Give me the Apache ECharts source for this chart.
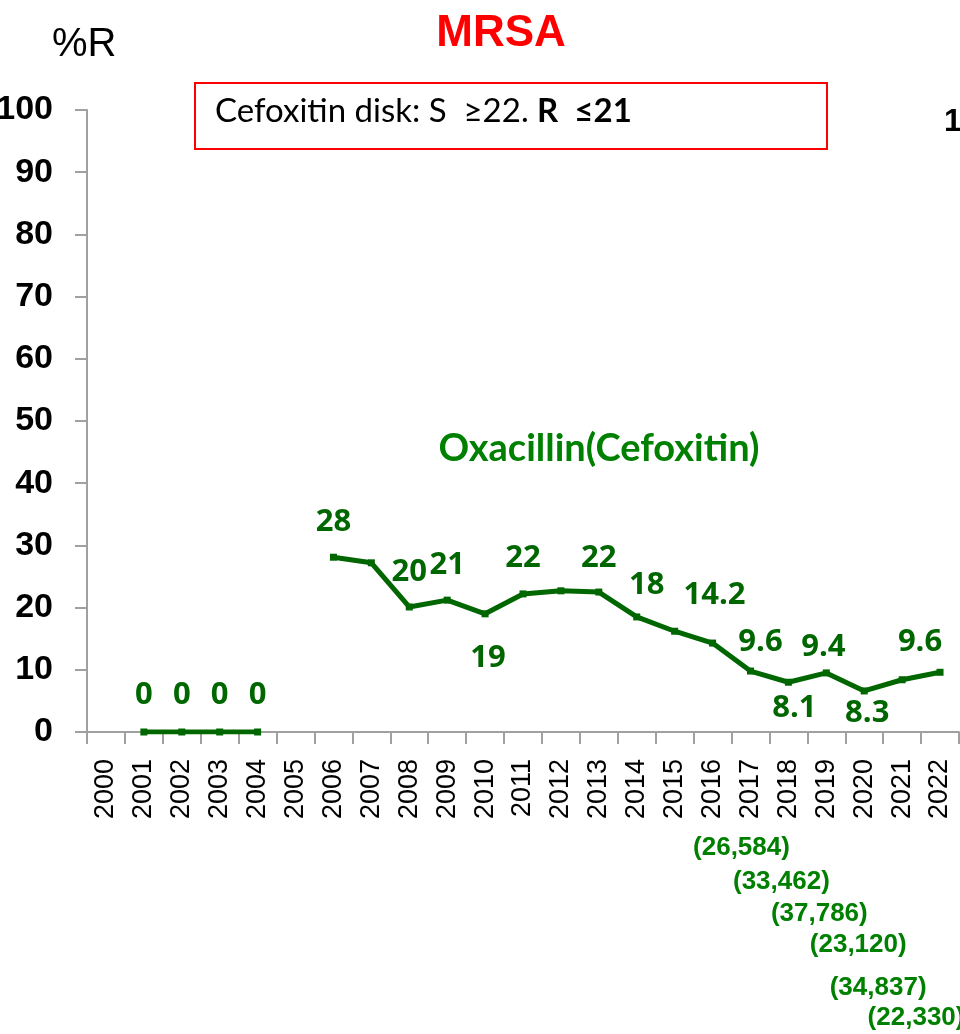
<!DOCTYPE html>
<html>
<head>
<meta charset="utf-8">
<script src="https://cdn.jsdelivr.net/npm/echarts@6/dist/echarts.min.js"></script>
<style>
  html, body { margin: 0; padding: 0; background: #fff; }
  #chart { width: 960px; height: 1034px; }
</style>
</head>
<body>
<div id="chart"></div>
<script>
// ── 数据 ──
const years = ['2000','2001','2002','2003','2004','2005','2006','2007','2008','2009','2010','2011',
               '2012','2013','2014','2015','2016','2017','2018','2019','2020','2021','2022'];
// 折线实际位置
const oxaR = [null, 0, 0, 0, 0, null, 28.1, 27.2, 20.1, 21.2, 19.0, 22.2,
              22.7, 22.5, 18.5, 16.2, 14.3, 9.8, 8.0, 9.5, 6.6, 8.4, 9.6];
// 点上标注的文字
const oxaLabels = ['', '0', '0', '0', '0', '', '28', '', '20', '21', '19', '22',
                   '', '22', '18', '', '14.2', '9.6', '8.1', '9.4', '8.3', '', '9.6'];
// 标注偏移（相对于点的中心）
const labelOffsets = [null, [0,-37], [0,-37], [0,-37], [0,-37], null, [0,-35], null, [0,-35], [0,-35], [3,44], [0,-36],
                      null, [0,-34], [10,-32], null, [2,-48], [10,-29], [6,26], [-3,-26], [3,22], null, [-20,-30]];
// 各年菌株数
const countYears = ['2017','2018','2019','2020','2021','2022'];
const countLabels = ['(26,584)','(33,462)','(37,786)','(23,120)','(34,837)','(22,330)'];
const countPos = [[-9,848],[-7,882],[-7,914],[-6,945],[-24,988],[-24,1018]]; // [dx, y]

const GREEN = '#006600';
const AXIS = '#a0a0a0';

const chart = echarts.init(document.getElementById('chart'));

const seriesData = oxaR.map((v, i) => {
  const lbl = oxaLabels[i];
  return {
    value: v,
    label: lbl ? { show: true, formatter: lbl, offset: labelOffsets[i] } : { show: false }
  };
});

chart.setOption({
  animation: false,
  grid: { left: 87, top: 110, width: 872, height: 622, containLabel: false, outerBoundsMode: 'none' },
  xAxis: {
    type: 'category',
    data: years,
    boundaryGap: true,
    axisLine: { lineStyle: { color: AXIS, width: 2 } },
    axisTick: { show: true, length: 12, alignWithLabel: false, lineStyle: { color: AXIS, width: 2 } },
    axisLabel: {
      rotate: 90, interval: 0, margin: 27,
      fontFamily: 'Liberation Sans', fontSize: 27, color: '#000'
    },
    splitLine: { show: false }
  },
  yAxis: {
    type: 'value', min: 0, max: 100, interval: 10,
    axisLine: { show: true, lineStyle: { color: AXIS, width: 2 } },
    axisTick: { show: true, length: 12, lineStyle: { color: AXIS, width: 2 } },
    axisLabel: {
      margin: 34, fontFamily: 'Liberation Sans', fontWeight: 'bold', fontSize: 34, color: '#000'
    },
    splitLine: { show: false }
  },
  series: [{
    type: 'line',
    name: 'Oxacillin(Cefoxitin)',
    data: seriesData,
    connectNulls: false,
    symbol: 'rect',
    symbolSize: 7,
    lineStyle: { color: GREEN, width: 5 },
    itemStyle: { color: GREEN },
    label: {
      position: 'inside',
      fontFamily: 'Open Sans', fontWeight: 'bold', fontSize: 31, color: GREEN
    }
  }]
});

// 标题、说明框、文字注释；菌株数的 x 由类目轴换算
const graphics = [
  { type: 'text', x: 52, y: 45,
    style: { text: '%R', font: '40px "Liberation Sans"', fill: '#000', verticalAlign: 'middle' } },
  { type: 'text', x: 501, y: 34,
    style: { text: 'MRSA', font: 'bold 44px "Liberation Sans"', fill: '#ff0000', align: 'center', verticalAlign: 'middle' } },
  { type: 'rect', shape: { x: 195, y: 83, width: 632, height: 66 },
    style: { fill: '#fff', stroke: '#ff0000', lineWidth: 2 } },
  { type: 'text', x: 215, y: 111,
    style: {
      text: '{n|Cefoxitin disk: S  ≥22. }{b|R  ≤21}',
      verticalAlign: 'middle',
      rich: {
        n: { font: '33px Lato', fill: '#000' },
        b: { font: 'bold 33px Lato', fill: '#000' }
      }
    } },
  { type: 'text', x: 944, y: 122,
    style: { text: '1', font: 'bold 32px "Liberation Sans"', fill: '#000', verticalAlign: 'middle' } },
  { type: 'text', x: 599, y: 449,
    style: { text: 'Oxacillin(Cefoxitin)', font: 'bold 38px Lato', fill: '#008000', align: 'center', verticalAlign: 'middle' } }
];
countYears.forEach((y, i) => {
  const px = chart.convertToPixel({ xAxisIndex: 0 }, y);
  graphics.push({
    type: 'text', x: px + countPos[i][0], y: countPos[i][1],
    style: {
      text: countLabels[i], font: 'bold 26px "Liberation Sans Narrow", "Liberation Sans"',
      fill: '#008000', align: 'center', verticalAlign: 'middle'
    }
  });
});
chart.setOption({ graphic: graphics });
</script>
</body>
</html>
